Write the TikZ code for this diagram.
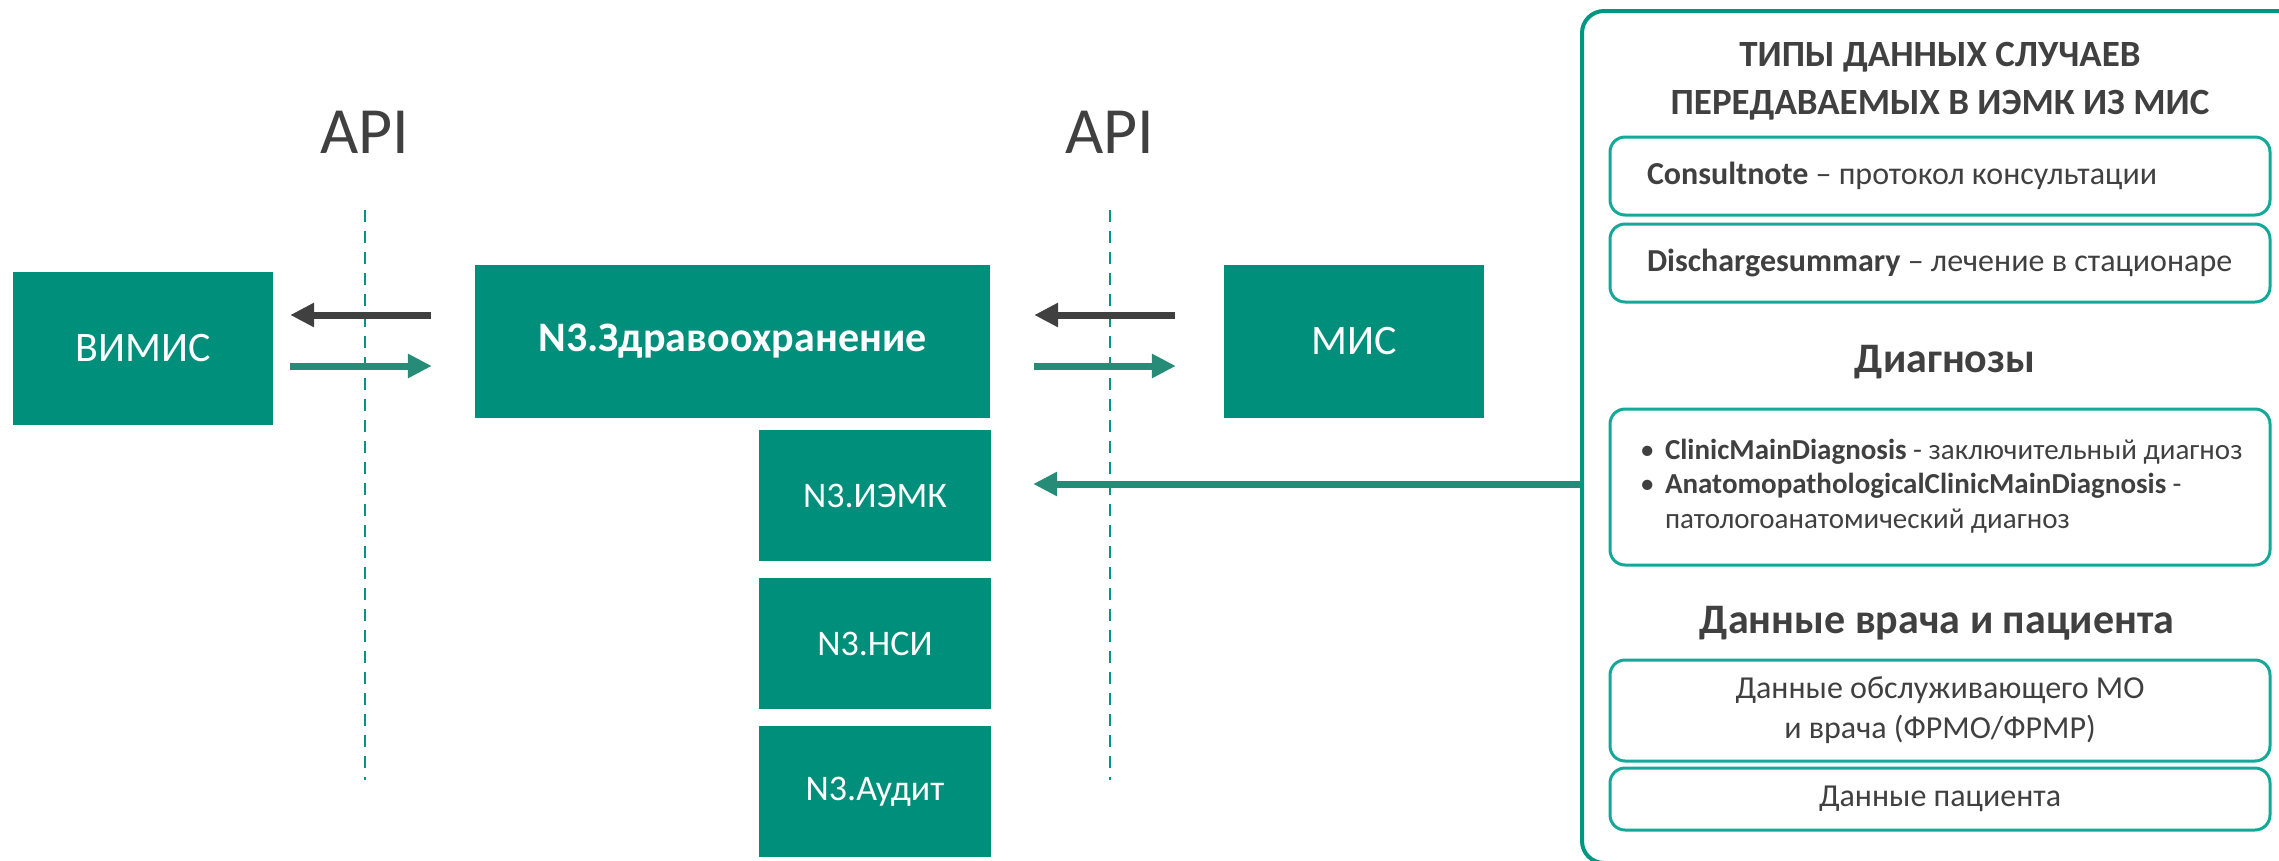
\documentclass[tikz,border=0pt]{standalone}
\usepackage{fontspec}
\setmainfont{Carlito}
\usetikzlibrary{arrows.meta,positioning}
\definecolor{nteal}{RGB}{0,143,122}
\definecolor{nline}{RGB}{0,150,130}
\definecolor{nframe}{RGB}{20,168,152}
\definecolor{narrow}{RGB}{38,140,120}
\definecolor{ngray}{RGB}{64,64,64}
\tikzset{
  sys/.style={fill=nteal, text=white, inner sep=0pt, minimum height=153pt, font=\fontsize{42}{50}\selectfont},
  sub/.style={fill=nteal, text=white, inner sep=0pt, minimum width=232pt, minimum height=131pt, font=\fontsize{36}{43}\selectfont},
  item/.style={draw=nframe, line width=3pt, rounded corners=15pt, minimum width=660pt, inner sep=0pt, text=ngray, font=\fontsize{32}{40}\selectfont},
  head/.style={text=ngray, font=\bfseries\fontsize{42}{50}\selectfont},
  api/.style={text=ngray, font=\fontsize{66}{79}\selectfont},
  apiline/.style={nline, line width=2.5pt, dash pattern=on 12pt off 9pt},
  toleft/.style={ngray, line width=7pt, -{Triangle[length=24pt,width=23pt]}},
  toright/.style={narrow, line width=7pt, -{Triangle[length=24pt,width=23pt]}},
}
\begin{document}
\begin{tikzpicture}[x=1pt,y=-1pt]
    \useasboundingbox (0,0) rectangle (2279,860);
    \clip (0,0) rectangle (2279,860);

    % systems
    \node[sys, minimum width=260pt] (vimis) at (143,348.5) {ВИМИС};
    \node[sys, minimum width=515pt, font=\bfseries\fontsize{42}{50}\selectfont] (zdrav) at (732.5,341.5) {N3.Здравоохранение};
    \node[sys, minimum width=260pt] (mis) at (1354,341.5) {МИС};

    \node[sub]                           (iemk)  at (875,495.5) {N3.ИЭМК};
    \node[sub, below=17pt of iemk]       (nsi)   {N3.НСИ};
    \node[sub, below=16pt of nsi]        (audit) {N3.Аудит};

    % API borders
    \node[api, anchor=base] (apil) at (365,153)  {API};
    \node[api, anchor=base] (apir) at (1110,153) {API};
    \draw[apiline] (apil |- 0,210) -- (apil |- 0,780);
    \draw[apiline] (apir |- 0,210) -- (apir |- 0,780);

    \draw[toleft, shorten <=44pt, shorten >=17pt]
        ([yshift=26.5pt]zdrav.west) -- ([yshift=26.5pt]zdrav.west -| vimis.east);
    \draw[toright, shorten <=17pt, shorten >=43pt]
        ([yshift=-24.5pt]zdrav.west -| vimis.east) -- ([yshift=-24.5pt]zdrav.west);
    \draw[toleft, shorten <=49pt, shorten >=44pt]
        ([yshift=26.5pt]mis.west) -- ([yshift=26.5pt]mis.west -| zdrav.east);
    \draw[toright, shorten <=43.5pt, shorten >=48pt]
        ([yshift=-24.5pt]zdrav.east) -- ([yshift=-24.5pt]zdrav.east -| mis.west);

    % data types panel
    \node[draw=nline, line width=4pt, rounded corners=22pt, minimum width=720pt, minimum height=852pt, inner sep=0pt] (panel) at (1942,437) {};
    \node[text=ngray, font=\bfseries\fontsize{37}{44}\selectfont, anchor=base] (title1) at (1940,66)  {ТИПЫ ДАННЫХ СЛУЧАЕВ};
    \node[text=ngray, font=\bfseries\fontsize{37}{44}\selectfont, anchor=base] (title2) at (1940,114) {ПЕРЕДАВАЕМЫХ В ИЭМК ИЗ МИС};

    \node[item, minimum height=78pt] (consult) at (1940,176)
        {\makebox[586pt][l]{\textbf{Consultnote} – протокол консультации}};
    \node[item, minimum height=78pt] (discharge) at (1940,263)
        {\makebox[586pt][l]{\textbf{Dischargesummary} – лечение в стационаре}};

    \node[head, anchor=base] (hdiag) at (1945,372) {Диагнозы};
    \node[item, minimum height=156pt, font=\fontsize{29}{34.5}\selectfont] (diag) at (1940,487)
        {\makebox[600pt][l]{\begin{tabular}{@{}p{25pt}@{}l@{}}
            • & \textbf{ClinicMainDiagnosis} - заключительный диагноз\\
            • & \textbf{AnatomopathologicalClinicMainDiagnosis} -\\
              & патологоанатомический диагноз
        \end{tabular}}};

    \node[head, anchor=base] (hdata) at (1937,633) {Данные врача и пациента};
    \node[item, minimum height=101pt, align=center] (doctor) at (1940,710.5)
        {Данные обслуживающего МО\\и врача (ФРМО/ФРМР)};
    \node[item, minimum height=62pt] (patient) at (1940,799) {Данные пациента};

    \draw[toright, shorten >=42pt]
        ([yshift=-47pt]panel.west) -- ([yshift=-47pt]panel.west -| iemk.east);
\end{tikzpicture}
\end{document}
